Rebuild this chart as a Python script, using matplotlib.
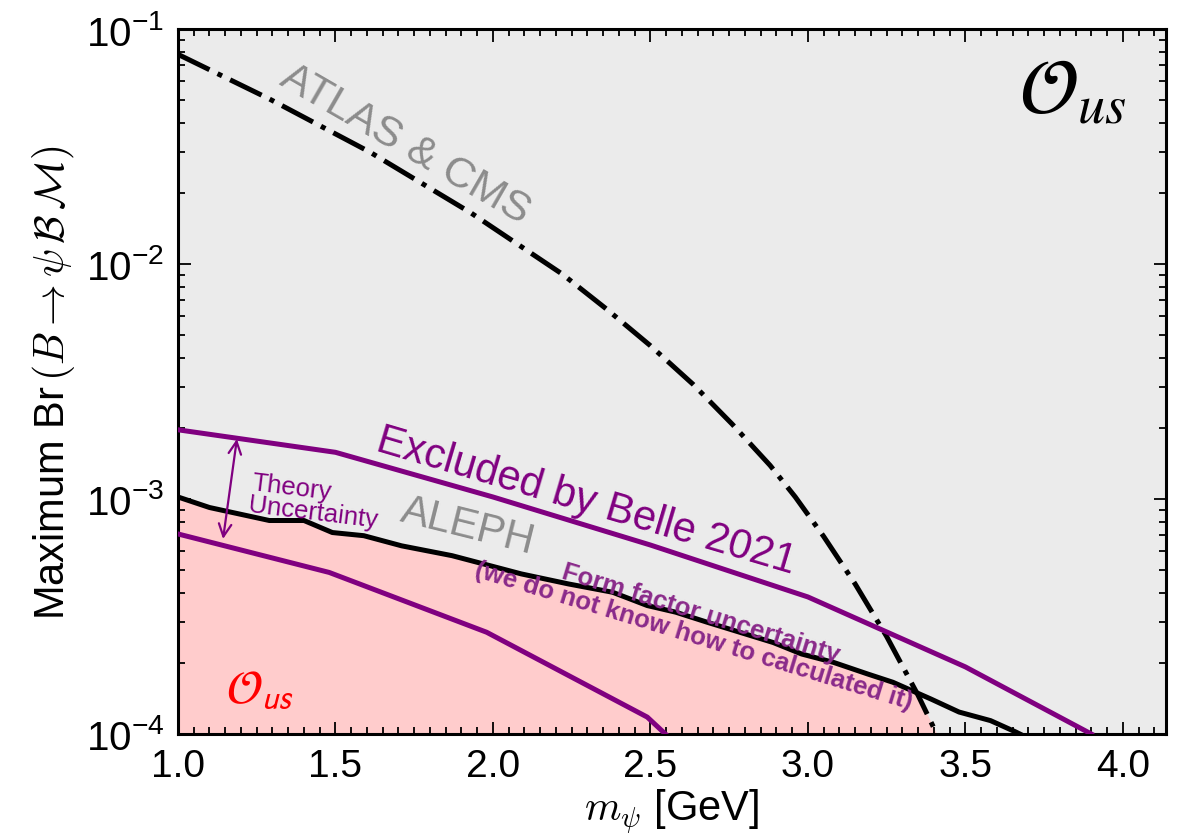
import numpy as np
import matplotlib
matplotlib.use('Agg')
import matplotlib.pyplot as plt
from matplotlib.ticker import LogLocator, MultipleLocator, NullFormatter

# ---------------- data ----------------
atlas_x = [1.0, 1.29, 1.61, 1.93, 2.22, 2.36, 2.50, 2.635, 2.76, 2.88, 2.96,
           3.05, 3.15, 3.25, 3.35, 3.45]
atlas_y = [7.8e-2, 5.04e-2, 2.99e-2, 1.65e-2, 9.06e-3, 6.44e-3, 4.49e-3,
           3.08e-3, 2.08e-3, 1.39e-3, 1.02e-3, 6.93e-4, 4.35e-4, 2.60e-4,
           1.46e-4, 7.7e-5]

belle_x = [1.0, 1.5, 2.0, 2.5, 3.0, 3.5, 3.9]
belle_y = [1.97e-3, 1.58e-3, 1.02e-3, 6.37e-4, 3.83e-4, 1.93e-4, 1.0e-4]

lower_x = [1.0, 1.48, 1.98, 2.49, 2.6]
lower_y = [7.1e-4, 4.87e-4, 2.71e-4, 1.18e-4, 8.6e-5]

aleph_x = [1.0, 1.10, 1.29, 1.40, 1.49, 1.59, 1.71, 1.87, 2.09, 2.24, 2.38, 2.49,
           2.58, 2.68, 2.89, 2.98, 3.08, 3.19, 3.27, 3.39, 3.48, 3.58, 3.66, 3.72]
aleph_y = [1.02e-3, 9.2e-4, 8.1e-4, 8.1e-4, 7.2e-4, 6.98e-4, 6.32e-4, 5.74e-4,
           4.8e-4, 4.35e-4, 4.01e-4, 3.52e-4, 3.30e-4, 2.99e-4, 2.45e-4, 2.19e-4,
           2.02e-4, 1.80e-4, 1.66e-4, 1.41e-4, 1.24e-4, 1.14e-4, 1.02e-4, 9.3e-5]

xticks = [1.0, 1.5, 2.0, 2.5, 3.0, 3.5, 4.0]

# ---------------- style ----------------
plt.rcParams.update({
    'font.family': ['Liberation Sans', 'DejaVu Sans'],
    'mathtext.fontset': 'custom',
    'mathtext.rm': 'Liberation Sans',
    'mathtext.it': 'Liberation Sans:italic',
    'mathtext.bf': 'Liberation Sans:bold',
})

purple = '#800080'
purple2 = '#8a2a8a'
pink = '#ffcccc'
bg = '#ebebeb'

fig = plt.figure(figsize=(11.84, 8.37), dpi=100)
ax = fig.add_axes([178 / 1184, 1 - 735 / 837, (1166 - 178) / 1184, (735 - 30) / 837])
ax.set_facecolor(bg)
ax.set_yscale('log')
ax.set_xlim(1.0, 4.137)
ax.set_ylim(1e-4, 1e-1)

# pink allowed region: below both ALEPH and ATLAS&CMS
xs = np.linspace(aleph_x[0], aleph_x[-1], 800)
la = np.interp(xs, aleph_x, np.log10(aleph_y))
lt = np.interp(xs, atlas_x, np.log10(atlas_y))
top = 10 ** np.minimum(la, lt)
ax.fill_between(xs, 1e-6, top, color=pink, lw=0, zorder=1)

lw = 3.6
ax.plot(atlas_x, atlas_y, color='k', lw=lw, dashes=(7.0, 1.8, 1.0, 1.8),
        dash_capstyle='butt', zorder=3)
ax.plot(belle_x, belle_y, color=purple, lw=lw, zorder=3)
ax.plot(lower_x, lower_y, color=purple, lw=lw, zorder=3)
ax.plot(aleph_x, aleph_y, color='k', lw=lw, zorder=3)

# theory uncertainty arrow
ax.annotate('', xy=(1.187, 1.80e-3), xytext=(1.143, 6.76e-4),
            arrowprops=dict(arrowstyle='<->,head_length=0.9,head_width=0.45',
                            color=purple, lw=1.6, shrinkA=0, shrinkB=0), zorder=4)

# texts
ax.text(1.72, 0.0324, 'ATLAS & CMS', color='#8c8c8c', fontsize=31,
        rotation=-30, rotation_mode='anchor', ha='center', va='center', zorder=5)
ax.text(2.295, 9.8e-4, 'Excluded by Belle 2021', color=purple, fontsize=30,
        rotation=-16.5, rotation_mode='anchor', ha='center', va='center', zorder=5)
ax.text(1.92, 7.67e-4, 'ALEPH', color='#8c8c8c', fontsize=30,
        rotation=-14, rotation_mode='anchor', ha='center', va='center', zorder=5)
ax.text(1.229, 1.06e-3, 'Theory\nUncertainty', color=purple, fontsize=18.5,
        rotation=-7, rotation_mode='anchor', ha='left', va='center',
        multialignment='left', linespacing=0.95, zorder=5)
ax.text(2.65, 2.94e-4, 'Form factor uncertainty\n(we do not know how to calculated it)',
        color=purple2, fontsize=18.5, fontweight='bold',
        rotation=-17, rotation_mode='anchor', ha='center', va='center',
        multialignment='center', linespacing=1.0, zorder=5)
ax.text(1.26, 1.55e-4, r'$\mathcal{O}_{us}$', color='red', fontsize=34,
        math_fontfamily='stixsans', ha='center', va='center', zorder=5)
ax.text(3.84, 5.4e-2, r'$\mathcal{O}_{us}$', color='black', fontsize=56,
        math_fontfamily='stix', ha='center', va='center', zorder=5)

# axes, ticks
ax.set_xticks(xticks)
ax.xaxis.set_minor_locator(MultipleLocator(0.05))
ax.yaxis.set_major_locator(LogLocator(base=10, numticks=10))
ax.yaxis.set_minor_locator(LogLocator(base=10, subs=np.arange(2, 10), numticks=20))
ax.yaxis.set_minor_formatter(NullFormatter())
ax.tick_params(which='both', direction='in', top=True, right=True, width=1.3)
ax.tick_params(which='major', length=9)
ax.tick_params(which='minor', length=5)
ax.tick_params(axis='x', which='major', labelsize=28, pad=10)
ax.tick_params(axis='y', which='major', labelsize=29, pad=10)
for s in ax.spines.values():
    s.set_linewidth(2.2)

ax.set_xlabel(r'$m_\psi$ [GeV]', fontsize=30, math_fontfamily='cm', labelpad=2)
ax.set_ylabel(r'Maximum Br$\,(B\rightarrow\psi\,\mathcal{B}\,\mathcal{M})$',
              fontsize=30, math_fontfamily='cm', labelpad=6)

fig.savefig('out.png', dpi=100, facecolor='white')
